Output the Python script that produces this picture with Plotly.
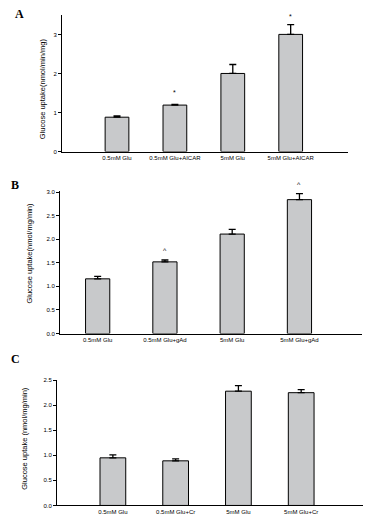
import plotly.graph_objects as go

# Panel A
cats_a = ["0.5mM Glu", "0.5mM Glu+AICAR", "5mM Glu", "5mM Glu+AICAR"]
vals_a = [0.88, 1.19, 2.00, 3.00]
errs_a = [0.03, 0.02, 0.23, 0.25]
sig_a = ["", "*", "", "*"]
sig_y_a = [None, 1.51, None, 3.46]

# Panel B
cats_b = ["0.5mM Glu", "0.5mM Glu+gAd", "5mM Glu", "5mM Glu+gAd"]
vals_b = [1.16, 1.52, 2.11, 2.84]
errs_b = [0.05, 0.04, 0.10, 0.13]
sig_b = ["", "^", "", "^"]
sig_y_b = [None, 1.76, None, 3.17]

# Panel C
cats_c = ["0.5mM Glu", "0.5mM Glu+Cr", "5mM Glu", "5mM Glu+Cr"]
vals_c = [0.95, 0.89, 2.28, 2.25]
errs_c = [0.06, 0.04, 0.11, 0.06]

W, H = 372, 523
BAR = "#c8c9cb"
FONT = "Liberation Sans"


def px(v, total):
    return v / total


fig = go.Figure()

panels = [
    dict(cats=cats_a, vals=vals_a, errs=errs_a, sig=sig_a, sigy=sig_y_a,
         x0=62, x1=348, ytop=13, ybot=151, rng=[0, 3.5], dtick=1, fmt="d",
         xr=[-0.95, 3.99], bw=0.41, title="Glucose uptake(nmol/min/mg)",
         tx=42, ty=88, label="A", lx=19, ly=12),
    dict(cats=cats_b, vals=vals_b, errs=errs_b, sig=sig_b, sigy=sig_y_b,
         x0=60, x1=362, ytop=191, ybot=334.7, rng=[0, 3.02], dtick=0.5, fmt=".1f",
         xr=[-0.56, 3.93], bw=0.36, title="Glucose uptake(nmol/mg/min)",
         tx=30, ty=254, label="B", lx=15, ly=185),
    dict(cats=cats_c, vals=vals_c, errs=errs_c, sig=None, sigy=None,
         x0=57, x1=362.7, ytop=381.3, ybot=508.3, rng=[0, 2.51], dtick=0.5, fmt=".1f",
         xr=[-0.89, 3.98], bw=0.41, title="Glucose uptake (nmol/mg/min)",
         tx=25, ty=441, label="C", lx=15, ly=360),
]

layout = dict(
    width=W, height=H, margin=dict(l=0, r=0, t=0, b=0),
    paper_bgcolor="white", plot_bgcolor="white", showlegend=False,
    annotations=[],
)

for i, p in enumerate(panels, start=1):
    xa = "x" if i == 1 else f"x{i}"
    ya = "y" if i == 1 else f"y{i}"
    fig.add_trace(go.Bar(
        x=list(range(4)), y=p["vals"], width=p["bw"],
        marker=dict(color=BAR, line=dict(color="black", width=1)),
        error_y=dict(type="data", symmetric=False, array=p["errs"],
                     arrayminus=[0] * 4, color="black", thickness=1.3, width=3.5),
        xaxis=xa, yaxis=ya, hoverinfo="skip",
    ))
    if p["sig"]:
        r0, r1 = p["rng"]
        for k, (s, sy) in enumerate(zip(p["sig"], p["sigy"])):
            if s:
                layout["annotations"].append(dict(
                    x=k, y=(sy - r0) / (r1 - r0), xref=xa, yref=f"{ya} domain",
                    text=s, showarrow=False,
                    font=dict(family=FONT, size=7, color="black"),
                    xanchor="center", yanchor="middle",
                ))
    key_x = "xaxis" if i == 1 else f"xaxis{i}"
    key_y = "yaxis" if i == 1 else f"yaxis{i}"
    layout[key_x] = dict(
        domain=[px(p["x0"], W), px(p["x1"], W)], range=p["xr"],
        tickmode="array", tickvals=list(range(4)), ticktext=p["cats"],
        showline=True, linecolor="black", linewidth=1, ticks="",
        showgrid=False, zeroline=False, anchor=ya,
        tickfont=dict(family=FONT, size=6, color="black"), fixedrange=True,
    )
    layout[key_y] = dict(
        domain=[1 - px(p["ybot"], H), 1 - px(p["ytop"], H)], range=p["rng"],
        dtick=p["dtick"], tickformat=p["fmt"], showline=True, linecolor="black",
        linewidth=1, ticks="outside", ticklen=3, tickcolor="black",
        showgrid=False, zeroline=False, anchor=xa,
        tickfont=dict(family=FONT, size=6, color="black"), fixedrange=True,
    )
    layout["annotations"].append(dict(
        x=px(p["tx"], W), y=1 - px(p["ty"], H), xref="paper", yref="paper",
        text=p["title"], textangle=-90, showarrow=False,
        font=dict(family=FONT, size=7.5, color="black"),
        xanchor="center", yanchor="middle",
    ))
    layout["annotations"].append(dict(
        x=px(p["lx"], W), y=1 - px(p["ly"], H), xref="paper", yref="paper",
        text=f"<b>{p['label']}</b>", showarrow=False,
        font=dict(family="Liberation Serif", size=12, color="black"),
        xanchor="center", yanchor="middle",
    ))

fig.update_layout(**layout)
fig.write_html(
    "out.html",
    config={"displayModeBar": False},
    post_script="document.body.style.margin='0';document.body.style.overflow='hidden';",
)
